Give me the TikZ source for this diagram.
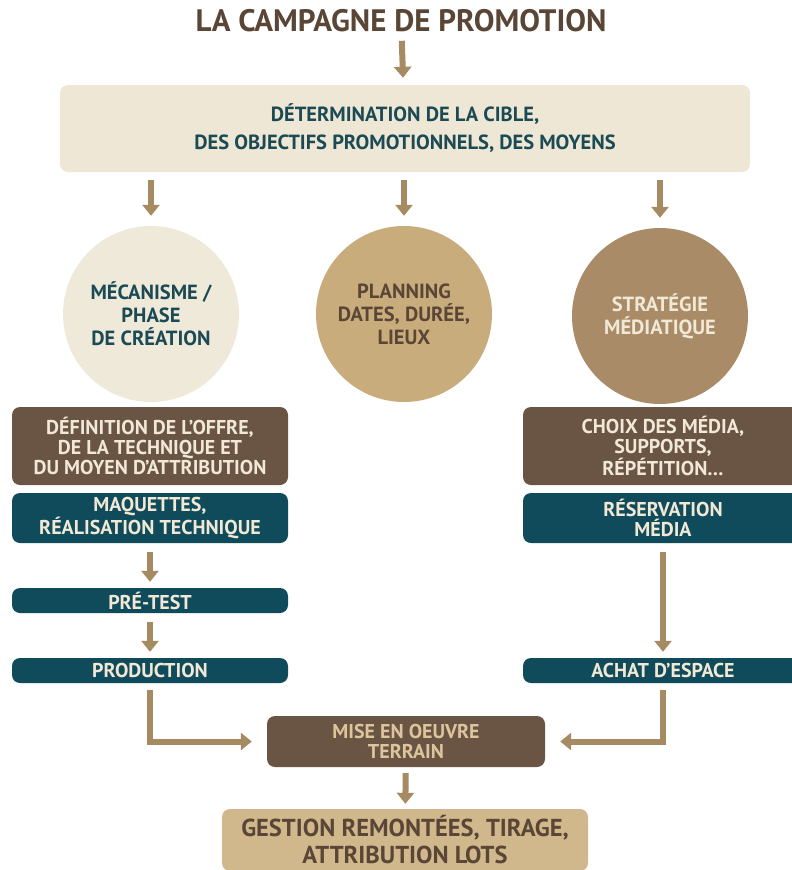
\documentclass[tikz,border=0pt]{standalone}
\usepackage{fontspec}
\setmainfont{PT Sans}
\usepackage{xcolor}
\usepackage{tikz}
\usetikzlibrary{arrows.meta}
\definecolor{titlebrown}{HTML}{5A4636}
\definecolor{arrowtan}{HTML}{A68A62}
\definecolor{cream}{HTML}{EEE7D5}
\definecolor{paleround}{HTML}{EFE9DA}
\definecolor{tealtext}{HTML}{1B4A55}
\definecolor{midtan}{HTML}{C9AC7C}
\definecolor{midbrown}{HTML}{A98B68}
\definecolor{darkbrown}{HTML}{6A5444}
\definecolor{darkteal}{HTML}{104B5B}
\definecolor{boxtext}{HTML}{F1E8D6}
\definecolor{terraintext}{HTML}{DCC59C}
\definecolor{lottan}{HTML}{D0B88C}

\begin{document}
\begin{tikzpicture}[x=1pt,y=-1pt,
  arr/.style={-{Triangle[length=11pt,width=17pt]},draw=arrowtan,line width=6pt},
  box/.style={rectangle,rounded corners=8pt,align=center,inner sep=2pt,
    font=\bfseries\fontsize{20}{20}\selectfont},
  phase/.style={circle,minimum size=176pt,inner sep=0pt,align=center,
    font=\bfseries\fontsize{20.5}{23}\selectfont}]
  \useasboundingbox (0,0) rectangle (792,870);
  \node[font=\bfseries\fontsize{31}{34}\selectfont,text=titlebrown] (title) at (401,21) {LA CAMPAGNE DE PROMOTION};
  \node[box,fill=cream,text=tealtext,minimum width=690pt,minimum height=87pt,
    font=\bfseries\fontsize{20.5}{28}\selectfont] (cible) at (405,128.5)
    {DÉTERMINATION DE LA CIBLE,\\DES OBJECTIFS PROMOTIONNELS, DES MOYENS};
  % les trois volets
  \node[phase,fill=paleround,text=tealtext] (mecanisme) at (151,314) {MÉCANISME /\\PHASE\\DE CRÉATION};
  \node[phase,fill=midtan,text=titlebrown] (planning) at (404,314) {PLANNING\\DATES, DURÉE,\\LIEUX};
  \node[phase,fill=midbrown,text=boxtext] (strategie) at (660,316) {STRATÉGIE\\MÉDIATIQUE};
  % colonne de gauche
  \node[box,fill=darkbrown,text=boxtext,minimum width=276pt,minimum height=78pt] (offre) at (150,446)
    {DÉFINITION DE L’OFFRE,\\DE LA TECHNIQUE ET\\DU MOYEN D’ATTRIBUTION};
  \node[box,fill=darkteal,text=boxtext,minimum width=276pt,minimum height=50pt] (maquettes) at (150,518)
    {MAQUETTES,\\RÉALISATION TECHNIQUE};
  \node[box,fill=darkteal,text=boxtext,minimum width=276pt,minimum height=25pt] (pretest) at (150,600.5) {PRÉ-TEST};
  \node[box,fill=darkteal,text=boxtext,minimum width=276pt,minimum height=25pt] (production) at (150,670.5) {PRODUCTION};
  % colonne de droite
  \node[box,fill=darkbrown,text=boxtext,minimum width=280pt,minimum height=78pt] (choix) at (663,446)
    {CHOIX DES MÉDIA,\\SUPPORTS,\\RÉPÉTITION…};
  \node[box,fill=darkteal,text=boxtext,minimum width=280pt,minimum height=50pt] (reservation) at (663,518)
    {RÉSERVATION\\MÉDIA};
  \node[box,fill=darkteal,text=boxtext,minimum width=280pt,minimum height=25pt] (achat) at (663,670.5) {ACHAT D’ESPACE};
  % terrain
  \node[box,fill=darkbrown,text=terraintext,minimum width=278pt,minimum height=51pt] (terrain) at (406,741.5)
    {MISE EN OEUVRE\\TERRAIN};
  \node[box,fill=lottan,text=titlebrown,minimum width=366pt,minimum height=62pt,
    font=\bfseries\fontsize{24.5}{27}\selectfont] (gestion) at (405,840)
    {GESTION REMONTÉES, TIRAGE,\\ATTRIBUTION LOTS};
  % fleches
  \draw[arr,shorten <=5pt,shorten >=7pt] (title) -- (cible);
  \draw[arr,shorten <=8pt,shorten >=10pt] (cible.south -| mecanisme) -- (mecanisme);
  \draw[arr,shorten <=8pt,shorten >=10pt] (cible.south -| planning) -- (planning);
  \draw[arr,shorten <=8pt,shorten >=10pt] (cible.south -| strategie) -- (strategie);
  \draw[arr,shorten <=9pt,shorten >=6pt] (maquettes) -- (pretest);
  \draw[arr,shorten <=9pt,shorten >=6pt] (pretest) -- (production);
  \draw[arr,shorten <=9pt,shorten >=6pt] (reservation) -- (achat);
  \draw[arr,shorten <=7pt,shorten >=15pt] (production.south) |- (terrain.west);
  \draw[arr,shorten <=7pt,shorten >=15pt] (achat.south) |- (terrain.east);
  \draw[arr,shorten <=6pt,shorten >=5pt] (terrain) -- (gestion);
\end{tikzpicture}
\end{document}
